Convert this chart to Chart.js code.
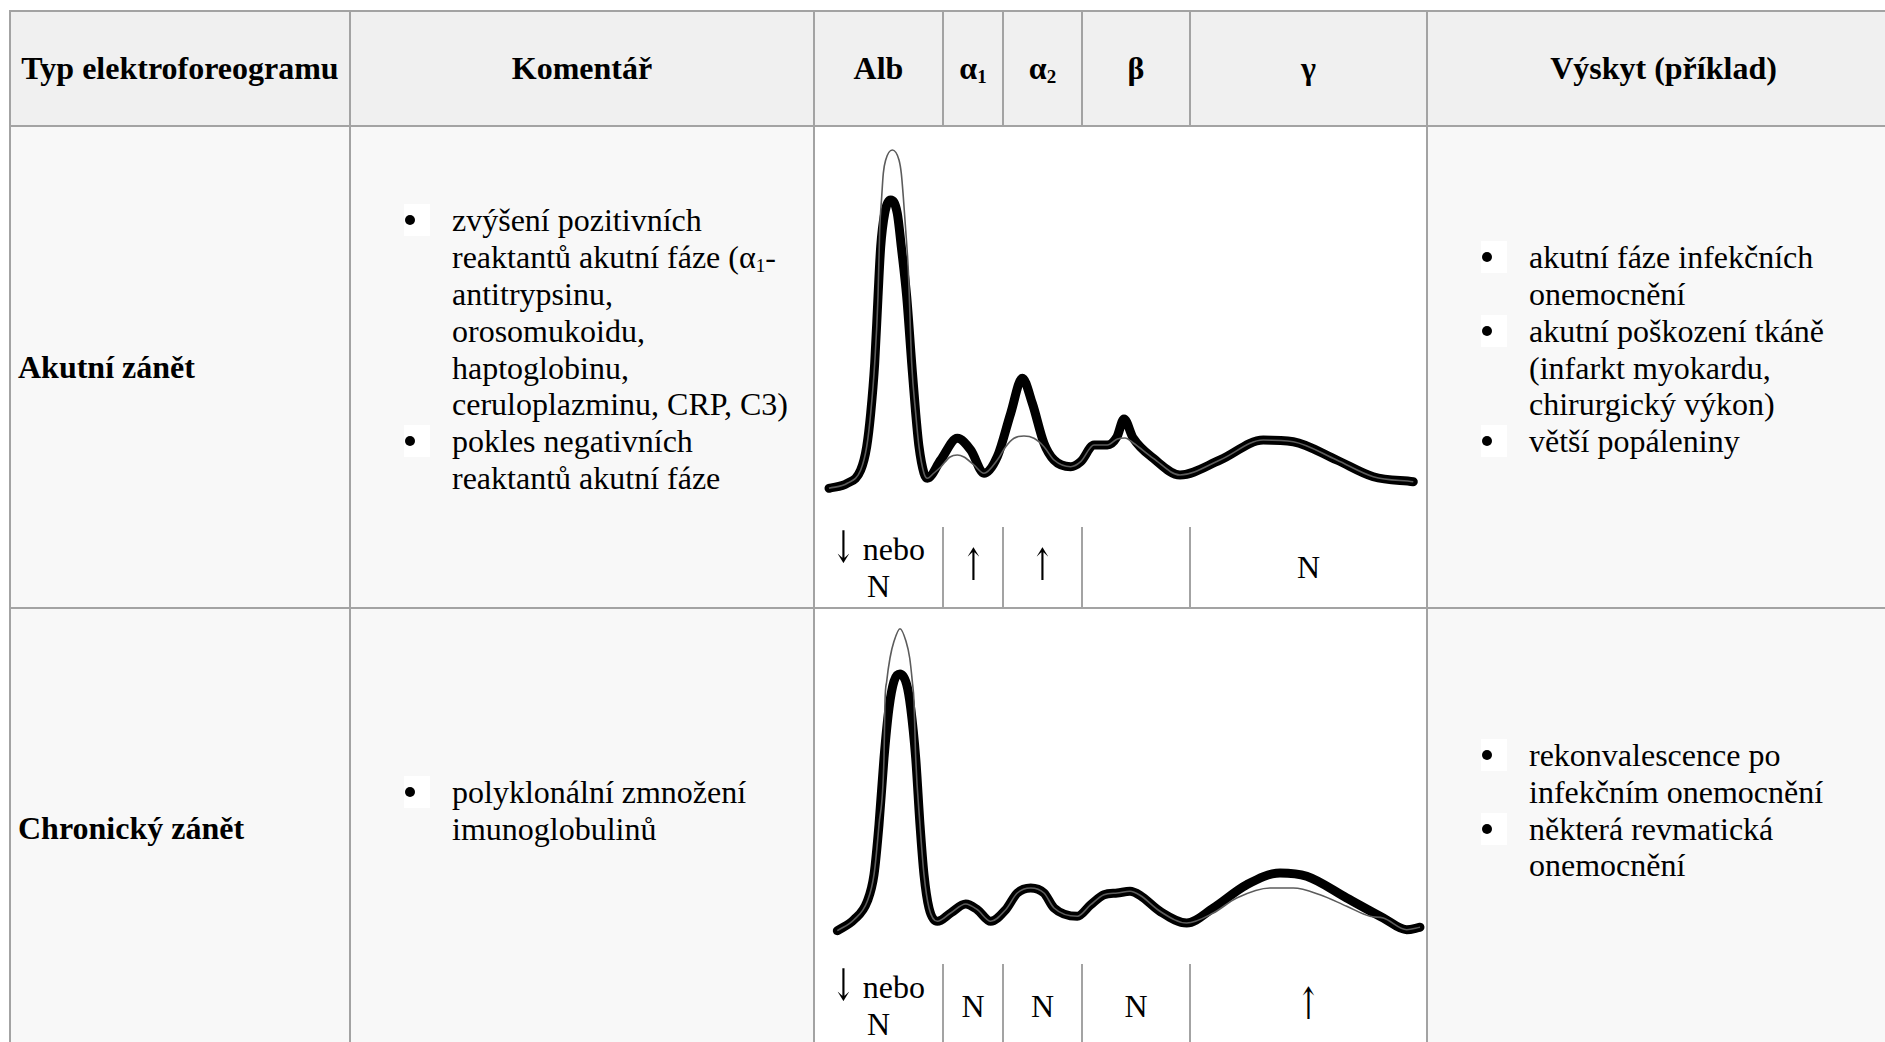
<!DOCTYPE html>
<html><head><meta charset="utf-8">
<script src="https://cdn.jsdelivr.net/npm/chart.js@4.4.1/dist/chart.umd.min.js"></script>
<style>
html,body{margin:0;padding:0;background:#fff;overflow:hidden;width:1885px;height:1042px;}
body{font-family:"Liberation Serif","Times New Roman",serif;font-size:32px;color:#000;position:relative;}
.c{position:absolute;box-sizing:border-box;}
.hd{background:#f0f0f0;font-weight:bold;display:flex;align-items:center;justify-content:center;text-align:center;white-space:nowrap;}
.bd{background:#f8f8f8;display:flex;align-items:center;white-space:nowrap;}
.lbl{font-weight:bold;padding-left:8px;}
.wh{background:#fff;}
.val{display:flex;align-items:center;justify-content:center;text-align:center;background:#fff;line-height:37px;}
.ln{position:absolute;background:#a3a3a3;z-index:5;}
.list{margin-bottom:35px;line-height:36.8px;}
.it{position:relative;padding-left:102px;}
.bu{position:absolute;left:54px;top:2px;width:26px;height:32px;background:#fff;}
.bu::before{content:"";position:absolute;left:1px;top:11px;width:10px;height:10px;border-radius:50%;background:#000;}
sub{font-size:19px;vertical-align:-4px;line-height:0;}
.ar{display:inline-block;font-family:"DejaVu Serif","Liberation Serif",serif;font-size:44px;line-height:20px;transform:scaleX(0.62);vertical-align:-2px;margin:0 -7px;}
canvas{display:block;}
</style>
</head><body>
<script>
// ---- Data ----
// fraction labels and qualitative changes
const fractionLabels = ['Alb', 'α1', 'α2', 'β', 'γ'];
const acuteChanges   = ['↓ nebo\nN', '↑', '↑', '', 'N'];
const chronicChanges = ['↓ nebo\nN', 'N', 'N', 'N', '↑'];

// Akutní zánět – patient curve (thick)
const acuteX = [15,33.3,46.7,52.7,56.7,60.7,64,66.7,70.7,76.7,83.3,87.3,92.7,97.7,101.7,105,110,113.3,126.7,143.3,156.7,170,183.3,196.7,208.3,218.3,230,240,256.7,266.7,280,293.3,303,310,319.3,339.3,366,406,449.3,479.3,522.7,559.3,599.3];
const acuteY = [38.7,43.7,57,80.3,113.7,163.7,230.3,280.3,313.7,327,313.7,280.3,230.3,163.7,113.7,80.3,53.7,48.7,67,88.7,77,53.7,70.3,113.7,148.7,123.7,83.7,67,60.3,65.3,82,82,90.3,108,88.7,68.7,52,67,87,85.3,67,50.3,45.3];
// Akutní zánět – normal curve (thin)
const acuteNormX = [15,33.3,46.7,52.7,56.7,60.7,64,65.7,67.7,69.3,71.7,78.3,85,87.3,89.3,91.7,94.3,97.7,101.7,105,110,113.3,120,126.7,136,143.3,150,160,170,183.3,191.7,200,210,220,230,240,256.7,266.7,280,293.3,303.3,311,319.3,339.3,366,406,449.3,479.3,522.7,559.3,599.3];
const acuteNormY = [38.7,43.7,57,80.3,113.7,163.7,230.3,297,330.3,353.7,367,377,367,353.7,330.3,297,257,163.7,113.7,80.3,53.7,48.7,54,60,70,72,70,62,53.7,67,80.3,88.7,91,88.7,80.3,67,60.3,65.3,82,82,88,89,84,68.7,52,67,87,85.3,67,50.3,45.3];

// Chronický zánět – patient curve (thick)
const chronicX = [23.3,40,53.3,60,65,70,75,80,86,92.7,96.7,101.7,106,110,115,123.3,136.7,151.7,163.3,176.7,191.7,203.3,216.7,230,240,263.3,276.7,290,303.3,316,326,346,372.7,399.3,432.7,466,492.7,532.7,569.3,592.7,606];
const chronicY = [33.3,44.3,62.7,89.3,139.3,206,256,282.7,290,279.3,256,206,139.3,89.3,56,42.7,51,60,54.3,42.7,54.3,71,76,71,56,47.7,59.3,69.3,71,72.7,68.7,52.7,41,56,79.3,91,87.7,66,46,34.3,36.7];
// Chronický zánět – normal curve (thin)
const chronicNormX = [23.3,40,53.3,60,65,70,71,72.7,76,80,86,92,95.7,98.3,100,101.7,106,110,115,123.3,136.7,151.7,163.3,176.7,191.7,203.3,216.7,230,240,263.3,276.7,290,303.3,316,326,346,372.7,399.3,422.7,456,479.3,506,532.7,556,569.3,592.7,606];
const chronicNormY = [33.3,44.3,62.7,89.3,139.3,206,262.7,282.7,306,322.7,335.3,322.7,306,282.7,262.7,206,139.3,89.3,56,42.7,51,60,54.3,42.7,54.3,71,76,71,56,47.7,59.3,69.3,71,72.7,68.7,52.7,41,51,66,76,76,69.3,57.7,47.7,46,34.3,36.7];
</script>

<div id="root"></div>

<script>
const root = document.getElementById('root');
function el(cls, x, y, w, h, html) {
  const d = document.createElement('div');
  d.className = cls;
  d.style.left = x + 'px'; d.style.top = y + 'px';
  d.style.width = w + 'px'; d.style.height = h + 'px';
  if (html !== undefined) d.innerHTML = html;
  root.appendChild(d);
  return d;
}
function line(x, y, w, h) { el('ln', x, y, w, h); }
const esc = s => '<span>' + s.replace(/(\d)$/, '<sub>$1</sub>') + '</span>';
const fmtVal = s => '<span>' + s.replace(/([↑↓])/g, '<span class="ar">$1</span>').replace('\n', '<br>') + '</span>';

// layout (pixels)
const X = [10, 350, 814, 943, 1003, 1082, 1190, 1427, 1900];
const Y = [11, 126, 527, 608, 964, 1048];

// header
el('c hd', X[0], Y[0], X[1]-X[0], Y[1]-Y[0], 'Typ elektroforeogramu');
el('c hd', X[1], Y[0], X[2]-X[1], Y[1]-Y[0], 'Komentář');
fractionLabels.forEach((f, i) => el('c hd', X[2+i], Y[0], X[3+i]-X[2+i], Y[1]-Y[0], esc(f)));
el('c hd', X[7], Y[0], X[8]-X[7], Y[1]-Y[0], 'Výskyt (příklad)');

function list(items) {
  return '<div class="list">' + items.map(t =>
    '<div class="it"><span class="bu"></span>' + t + '</div>').join('') + '</div>';
}

// row 1
el('c bd lbl', X[0], Y[1], X[1]-X[0], Y[3]-Y[1], 'Akutní zánět');
el('c bd', X[1], Y[1], X[2]-X[1], Y[3]-Y[1], list([
  'zvýšení pozitivních<br>reaktantů akutní fáze (α<sub>1</sub>-<br>antitrypsinu,<br>orosomukoidu,<br>haptoglobinu,<br>ceruloplazminu, CRP, C3)',
  'pokles negativních<br>reaktantů akutní fáze']));
el('c bd', X[7], Y[1], X[8]-X[7], Y[3]-Y[1], list([
  'akutní fáze infekčních<br>onemocnění',
  'akutní poškození tkáně<br>(infarkt myokardu,<br>chirurgický výkon)',
  'větší popáleniny']));
el('c wh', X[2], Y[1], X[7]-X[2], Y[2]-Y[1], '<canvas id="ch1" width="613" height="401"></canvas>');
acuteChanges.forEach((t, i) => el('c val', X[2+i], Y[2], X[3+i]-X[2+i], Y[3]-Y[2], fmtVal(t)));

// row 2
el('c bd lbl', X[0], Y[3], X[1]-X[0], Y[5]-Y[3], 'Chronický zánět');
el('c bd', X[1], Y[3], X[2]-X[1], Y[5]-Y[3], list(['polyklonální zmnožení<br>imunoglobulinů']));
el('c bd', X[7], Y[3], X[8]-X[7], Y[5]-Y[3], list([
  'rekonvalescence po<br>infekčním onemocnění',
  'některá revmatická<br>onemocnění']));
el('c wh', X[2], Y[3], X[7]-X[2], Y[4]-Y[3], '<canvas id="ch2" width="613" height="356"></canvas>');
chronicChanges.forEach((t, i) => el('c val', X[2+i], Y[4], X[3+i]-X[2+i], Y[5]-Y[4], fmtVal(t)));

// grid lines
[Y[0]-1, Y[1]-1, Y[3]-1, Y[5]-1].forEach(y => line(X[0]-1, y, 1900, 2));
[X[0]-1, X[1]-1, X[2]-1, X[7]-1].forEach(x => line(x, Y[0]-1, 2, Y[5]-Y[0]+2));
[3,4,5,6].forEach(i => {
  line(X[i]-1, Y[0]-1, 2, Y[1]-Y[0]+1);
  line(X[i]-1, Y[2], 2, Y[3]-Y[2]);
  line(X[i]-1, Y[4], 2, Y[5]-Y[4]);
});

// charts
function pts(xs, ys) { return xs.map((x, i) => ({x: x, y: ys[i]})); }
function makeChart(id, thickX, thickY, thinX, thinY, yMax) {
  new Chart(document.getElementById(id), {
    type: 'line',
    data: { datasets: [
      { label: 'norma', data: pts(thinX, thinY), borderColor: '#5c5c5c', borderWidth: 1.6,
        pointRadius: 0, cubicInterpolationMode: 'monotone', fill: false },
      { label: 'pacient', data: pts(thickX, thickY), borderColor: '#000000', borderWidth: 9,
        pointRadius: 0, cubicInterpolationMode: 'monotone', fill: false,
        borderCapStyle: 'round', borderJoinStyle: 'round' }
    ]},
    options: {
      responsive: false, animation: false, events: [],
      layout: { padding: 0 },
      plugins: { legend: { display: false }, tooltip: { enabled: false } },
      scales: {
        x: { type: 'linear', display: false, min: 0, max: 613 },
        y: { display: false, min: 0, max: yMax }
      }
    }
  });
}
makeChart('ch1', acuteX, acuteY, acuteNormX, acuteNormY, 401);
makeChart('ch2', chronicX, chronicY, chronicNormX, chronicNormY, 356);
</script>
</body></html>
